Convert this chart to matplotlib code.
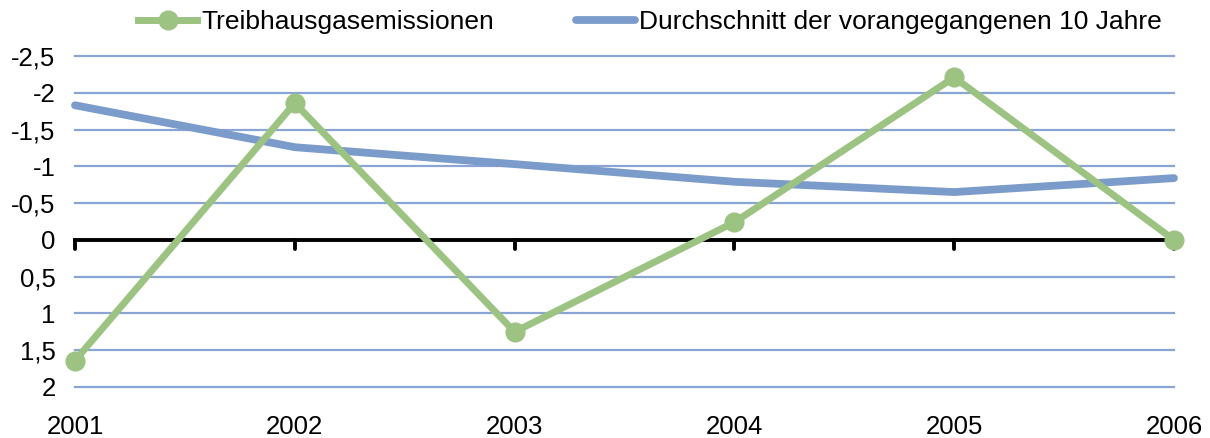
import matplotlib
matplotlib.use("Agg")
import matplotlib.pyplot as plt
from matplotlib.ticker import FuncFormatter

years = ["2001", "2002", "2003", "2004", "2005", "2006"]
emissions = [1.64, -1.86, 1.25, -0.24, -2.21, 0.0]
avg10 = [-1.83, -1.26, -1.03, -0.79, -0.65, -0.84]
yticks = [-2.5, -2, -1.5, -1, -0.5, 0, 0.5, 1, 1.5, 2]

green = "#9DC383"
blue = "#7B9CCB"
grid = "#8AA5D3"

plt.rcParams['font.family'] = ['Liberation Sans', 'DejaVu Sans']
fs = 18.5

fig = plt.figure(figsize=(12.10, 4.38), dpi=100)
ax = fig.add_axes([75/1210, 1-387/438, (1174-75)/1210, (387-56)/438])

x = list(range(len(years)))
ax.set_xlim(0, len(years) - 1)
ax.set_ylim(2, -2.5)

for t in yticks:
    if t != 0:
        ax.axhline(t, color=grid, lw=1.6, zorder=1, clip_on=False)
ax.axhline(0, color="black", lw=2.8, zorder=2, clip_on=False)
for xi in x:
    ax.plot([xi, xi], [0, 0.12], color="black", lw=2.8, zorder=2, clip_on=False,
            solid_capstyle="round")

ax.plot(x, avg10, color=blue, lw=5.6, zorder=3, solid_capstyle="round",
        solid_joinstyle="round", clip_on=False, label="Durchschnitt der vorangegangenen 10 Jahre")
ax.plot(x, emissions, color=green, lw=5.0, marker="o", ms=13.5, zorder=4,
        solid_joinstyle="round", clip_on=False, label="Treibhausgasemissionen")

ax.set_yticks(yticks)
ax.yaxis.set_major_formatter(FuncFormatter(lambda v, p: ("%g" % v).replace(".", ",")))
ax.set_xticks(x)
ax.set_xticklabels(years)
ax.tick_params(axis="both", length=0, labelsize=fs)
ax.tick_params(axis="x", pad=20)
ax.tick_params(axis="y", pad=14)
for s in ax.spines.values():
    s.set_visible(False)

h, l = ax.get_legend_handles_labels()
leg = fig.legend([h[1], h[0]], [l[1], l[0]], loc="center", bbox_to_anchor=(0.537, 0.95),
                 ncol=2, frameon=False, fontsize=fs, handlelength=2.3, handletextpad=0.15,
                 columnspacing=3.2)
for t in leg.get_texts():
    t.set_fontsize(19)

fig.savefig("out.png", dpi=100)
